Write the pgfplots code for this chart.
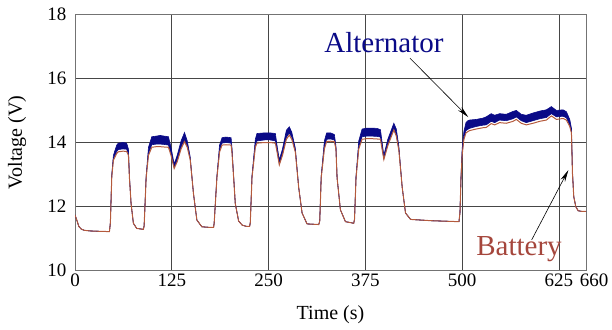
\documentclass[border=0pt]{standalone}
\usepackage{fontspec}
\setmainfont{Liberation Serif}
\usepackage{pgfplots}
\pgfplotsset{compat=1.18}
\usepackage{pgfplotstable}
\usepgfplotslibrary{fillbetween}
\usetikzlibrary{arrows.meta}
\definecolor{altc}{RGB}{10,10,135}
\definecolor{batc}{RGB}{180,90,60}
\definecolor{battxt}{RGB}{165,70,60}
\definecolor{gridc}{RGB}{70,70,70}

\pgfplotstableread{
t bat lo hi
0 11.74 11.74 11.74
2 11.60 11.60 11.60
5 11.38 11.38 11.38
8 11.30 11.30 11.30
12 11.26 11.26 11.26
20 11.24 11.24 11.24
30 11.23 11.23 11.23
44.5 11.22 11.22 11.22
45.7 11.50 11.50 11.50
47.5 12.93 12.95 13.00
49.6 13.45 13.50 13.60
53.9 13.66 13.72 13.92
56 13.71 13.78 13.98
62 13.73 13.80 14.00
66.7 13.72 13.79 13.98
69 13.60 13.65 13.80
70.3 12.90 12.92 12.95
72.4 12.10 12.10 12.10
75.4 11.48 11.48 11.48
79.7 11.32 11.32 11.32
88.3 11.29 11.29 11.29
89.3 11.40 11.40 11.40
91.9 12.90 12.92 12.96
94.9 13.60 13.66 13.85
99.2 13.85 13.93 14.18
105 13.87 13.95 14.20
110 13.87 13.95 14.22
115 13.86 13.94 14.20
120.7 13.85 13.92 14.18
124 13.60 13.65 13.85
128.1 13.19 13.22 13.33
132 13.40 13.44 13.60
137 13.80 13.86 14.05
141.4 14.03 14.08 14.31
145 13.85 13.90 14.05
148.8 13.46 13.48 13.55
153 12.41 12.41 12.41
157.4 11.58 11.58 11.58
163.9 11.37 11.37 11.37
174.6 11.35 11.35 11.35
179 11.35 11.35 11.35
179.8 11.50 11.50 11.50
183.3 12.90 12.92 12.96
186.7 13.70 13.75 13.92
189.9 13.92 13.98 14.15
195 13.93 14.00 14.17
201.6 13.92 13.98 14.15
202.7 13.70 13.74 13.85
204.9 12.90 12.92 12.95
207 12.10 12.10 12.10
211.3 11.55 11.55 11.55
216 11.42 11.42 11.42
222 11.38 11.38 11.38
225.5 11.38 11.38 11.38
226.4 11.50 11.50 11.50
228.6 12.90 12.92 12.96
232.9 13.85 13.90 14.10
235 13.98 14.05 14.28
245 14.00 14.08 14.30
252 14.00 14.08 14.30
258.8 13.98 14.05 14.28
261 13.70 13.75 13.90
263.9 13.30 13.33 13.46
268 13.60 13.65 13.80
273 14.10 14.16 14.38
276.8 14.23 14.30 14.49
280 14.10 14.16 14.32
284.6 13.70 13.73 13.82
288.9 12.60 12.60 12.60
293.3 11.80 11.80 11.80
299.7 11.46 11.46 11.46
314.8 11.44 11.44 11.44
316.1 11.55 11.55 11.55
318 12.90 12.92 12.96
322.1 13.80 13.85 14.05
325 14.03 14.10 14.30
330 14.04 14.11 14.30
335 14.03 14.08 14.25
337 13.80 13.83 13.90
338.5 12.90 12.90 12.90
342.8 11.90 11.90 11.90
349.3 11.53 11.53 11.53
360 11.48 11.48 11.48
361 11.60 11.60 11.60
363 12.90 12.92 12.96
366.5 13.80 13.85 14.05
370.8 14.10 14.18 14.42
377 14.12 14.20 14.45
383 14.12 14.20 14.45
390 14.11 14.19 14.44
394.5 14.10 14.17 14.40
398.9 13.47 13.50 13.60
404 13.90 13.95 14.10
411.8 14.39 14.45 14.60
415 14.20 14.25 14.42
418.3 13.75 13.78 13.88
422.6 12.60 12.60 12.60
426.9 11.80 11.80 11.80
433.4 11.60 11.60 11.60
460 11.56 11.56 11.56
495.9 11.53 11.53 11.53
497.2 11.80 11.80 11.80
498.6 12.90 12.92 12.96
500 13.60 13.64 13.80
502.3 14.10 14.15 14.35
505 14.30 14.37 14.62
507.4 14.34 14.41 14.68
509.5 14.37 14.44 14.70
518.1 14.42 14.50 14.72
526.8 14.46 14.54 14.76
531.1 14.47 14.55 14.80
537.6 14.59 14.66 14.90
542 14.55 14.62 14.85
548.4 14.62 14.70 14.90
557 14.60 14.68 14.88
565.7 14.66 14.74 14.97
570 14.72 14.80 15.00
576.4 14.60 14.68 14.88
582.9 14.55 14.62 14.85
591.6 14.60 14.68 14.92
600.1 14.66 14.74 14.98
608.8 14.70 14.78 15.02
615.3 14.83 14.90 15.12
621.8 14.72 14.80 15.00
630.4 14.75 14.82 15.02
634.7 14.70 14.77 14.96
639 14.50 14.55 14.72
641.2 14.30 14.33 14.45
642.5 13.04 13.06 13.10
644.2 12.31 12.31 12.31
646.8 12.00 12.00 12.00
649.9 11.87 11.87 11.87
655 11.85 11.85 11.85
660 11.85 11.85 11.85
}\data

\begin{document}
\begin{tikzpicture}
\begin{axis}[
  scale only axis, width=511pt, height=256.4pt,
  xmin=0, xmax=660, ymin=10, ymax=18,
  xtick={0,125,250,375,500,625}, ytick={10,12,14,16,18},
  extra x ticks={660},
  extra x tick style={xticklabel style={xshift=8pt}},
  grid=major, major grid style={gridc, line width=0.8pt},
  axis line style={black!55, line width=0.8pt},
  major tick length=0pt,
  tick label style={font=\fontsize{19}{22}\selectfont},
  /pgf/number format/assume math mode=true,
  yticklabel style={xshift=-5pt},
  xlabel={Time (s)}, ylabel={Voltage (V)},
  every axis x label/.style={at={(rel axis cs:0.5,0)}, anchor=center, yshift=-44pt, font=\fontsize{20}{24}\selectfont},
  every axis y label/.style={at={(rel axis cs:0,0.5)}, anchor=center, xshift=-58pt, rotate=90, font=\fontsize{20}{24}\selectfont},
]
\addplot[name path=hi, draw=altc, line width=0.6pt, mark=none] table[x=t, y=hi]{\data};
\addplot[name path=lo, draw=altc, line width=0.6pt, mark=none] table[x=t, y=lo]{\data};
\addplot[altc] fill between[of=hi and lo];
\addplot[batc, line width=1pt, mark=none] table[x=t, y=bat]{\data};
\node[font=\fontsize{29}{34}\selectfont, text=altc, anchor=base] at (axis cs:399,16.82) {Alternator};
\node[font=\fontsize{29}{34}\selectfont, text=battxt, anchor=base] at (axis cs:573.5,10.46) {Battery};
\draw[black, line width=0.6pt, -{Stealth[length=12pt,width=5pt]}] (axis cs:432.7,16.63) -- (axis cs:508,14.79);
\draw[black, line width=0.6pt, -{Stealth[length=12pt,width=5pt]}] (axis cs:589.8,10.96) -- (axis cs:637.2,13.14);
\coordinate (O) at (rel axis cs:0,0);
\end{axis}
\pgfresetboundingbox
\path ([xshift=-75pt,yshift=-58.3pt]O) rectangle ++(612pt,329pt);
\end{tikzpicture}
\end{document}
